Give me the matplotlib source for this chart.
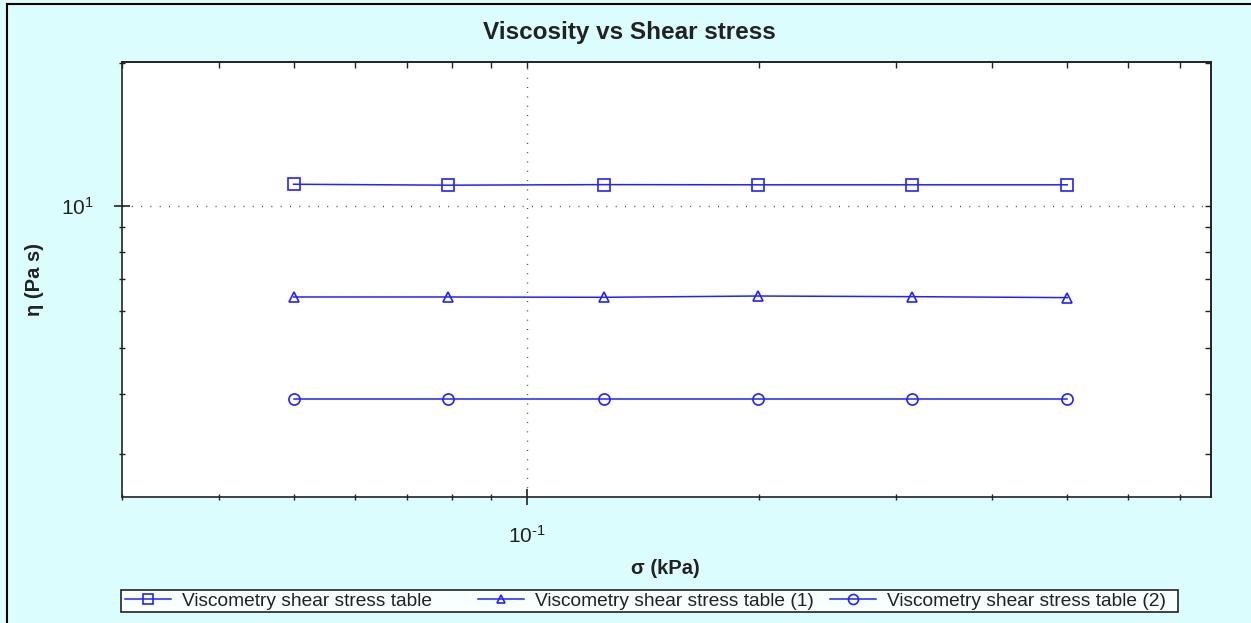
import numpy as np
import matplotlib.pyplot as plt
from matplotlib.lines import Line2D
from matplotlib.patches import Rectangle
from matplotlib.ticker import LogLocator, NullFormatter, FuncFormatter

plt.rcParams['font.family'] = ['Liberation Sans', 'DejaVu Sans']
plt.rcParams['mathtext.fontset'] = 'custom'
plt.rcParams['mathtext.rm'] = 'Liberation Sans'

# data
sigma = [0.05, 0.0792, 0.126, 0.199, 0.315, 0.5]          # kPa
eta_sq = [11.10, 11.05, 11.08, 11.07, 11.07, 11.07]        # Pa s
eta_tri = [6.42, 6.42, 6.41, 6.45, 6.43, 6.40]
eta_circ = [3.91, 3.91, 3.91, 3.91, 3.91, 3.91]
labels = ['Viscometry shear stress table',
          'Viscometry shear stress table (1)',
          'Viscometry shear stress table (2)']

bg = '#dcfdfd'
blue = '#2222ff'
ink = '#222222'
W, H = 1251, 623

fig = plt.figure(figsize=(12.51, 6.23), dpi=100, facecolor=bg)
ax = fig.add_axes([122 / W, 1 - 497 / H, (1211 - 122) / W, (497 - 62) / H])
ax.set_facecolor('white')

series = [(eta_sq, 's', 8.5), (eta_tri, '^', 7), (eta_circ, 'o', 8)]
handles = []
for (vals, mk, ms) in series:
    h, = ax.plot(sigma, vals, color=blue, lw=1.1, marker=mk, ms=ms,
                 mfc='none', mec=blue, mew=1.2)
    handles.append(h)

ax.set_xscale('log')
ax.set_yscale('log')
ax.set_xlim(0.0300, 0.767)
ax.set_ylim(2.43, 20.1)


def pow10(v, pos):
    e = int(round(np.log10(v)))
    return r'$\mathregular{10^{%s}}$' % (str(e).replace('-', r'\text{-}'))


for axis in (ax.xaxis, ax.yaxis):
    axis.set_major_locator(LogLocator(base=10))
    axis.set_minor_locator(LogLocator(base=10, subs=np.arange(2, 10)))
    axis.set_major_formatter(FuncFormatter(pow10))
    axis.set_minor_formatter(NullFormatter())

ax.tick_params(which='both', direction='inout', colors=ink,
               labelsize=15, labelcolor=ink)
ax.tick_params(which='major', length=12, width=1.2)
ax.tick_params(which='minor', length=5, width=1.0)
ax.tick_params(axis='x', pad=14)
ax.tick_params(axis='y', pad=14)

# top / right ticks pointing inward
top = ax.secondary_xaxis('top')
top.xaxis.set_minor_locator(LogLocator(base=10, subs=np.arange(2, 10)))
top.tick_params(which='both', direction='in', length=4, width=1.0,
                labeltop=False, colors=ink)
top.xaxis.set_minor_formatter(NullFormatter())
top.xaxis.set_major_formatter(NullFormatter())
right = ax.secondary_yaxis('right')
right.yaxis.set_minor_locator(LogLocator(base=10, subs=np.arange(2, 10)))
right.tick_params(which='both', direction='in', length=4, width=1.0,
                  labelright=False, colors=ink)
right.yaxis.set_minor_formatter(NullFormatter())
right.yaxis.set_major_formatter(NullFormatter())

for s in list(ax.spines.values()) + list(top.spines.values()) + list(right.spines.values()):
    s.set_linewidth(1.2)
    s.set_color(ink)

ax.grid(True, which='major', linestyle=(0, (0.7, 6)), color='#444444', lw=1)

fig.text(629 / W, 1 - 32 / H, 'Viscosity vs Shear stress', ha='center',
         va='center', fontsize=17.5, fontweight='bold', color=ink)
fig.text(665 / W, 1 - 568 / H, 'σ (kPa)', ha='center', va='center',
         fontsize=14.5, fontweight='bold', color=ink)
fig.text(35 / W, 1 - 280 / H, 'η (Pa s)', ha='center', va='center',
         rotation=90, fontsize=14.5, fontweight='bold', color=ink)

# legend box with three equally spaced entries
fig.patches.append(Rectangle((121 / W, 1 - 612 / H), (1178 - 121) / W, 22 / H,
                             transform=fig.transFigure, facecolor='#f8ffff',
                             edgecolor=ink, lw=1.2, zorder=1))
for h, lab, x0 in zip(handles, labels, [125, 478, 830]):
    lg = fig.legend([h], [lab], loc='center left',
                    bbox_to_anchor=(x0 / W, 1 - 601 / H), frameon=False,
                    fontsize=13.8, handlelength=2.4, handletextpad=0.55,
                    borderpad=0, borderaxespad=0, markerscale=0.9)
    for t in lg.get_texts():
        t.set_color(ink)

# frame lines at left and top of the screenshot
fig.add_artist(Line2D([7 / W, 7 / W], [0, 1 - 4 / H], transform=fig.transFigure,
                      color='black', lw=1.5))
fig.add_artist(Line2D([7 / W, 1], [1 - 4 / H, 1 - 4 / H], transform=fig.transFigure,
                      color='black', lw=1.5))

fig.savefig('out.png', dpi=100, facecolor=bg)
